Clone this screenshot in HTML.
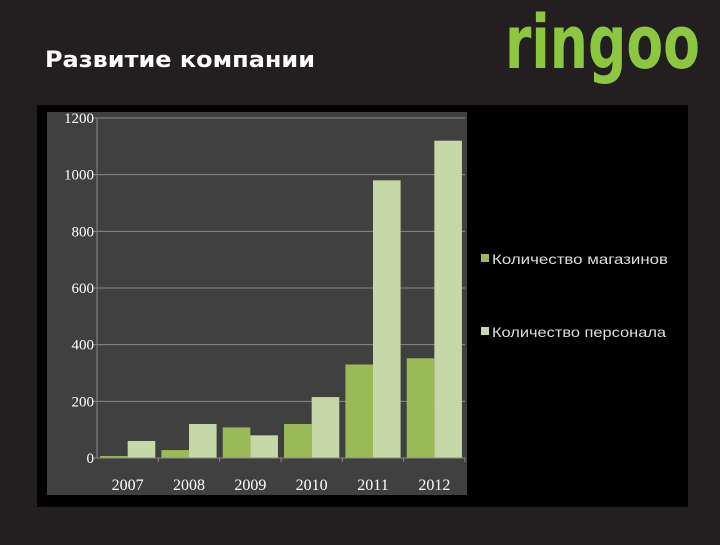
<!DOCTYPE html>
<html><head><meta charset="utf-8"><style>
body{margin:0;width:720px;height:540px;background:#231f20;overflow:hidden;font-family:"Liberation Sans","DejaVu Sans",sans-serif}
</style></head><body>
<svg width="720" height="540">
<text x="45" y="67" fill="#fff" font-size="22" font-weight="bold" textLength="270" lengthAdjust="spacingAndGlyphs" font-family="DejaVu Sans, sans-serif">Развитие компании</text>
<text x="505" y="68" fill="#8dc63f" font-size="74" font-weight="bold" textLength="195" lengthAdjust="spacingAndGlyphs" font-family="DejaVu Sans, sans-serif">ringoo</text>
<rect x="37" y="105" width="651" height="402" fill="#000"/>
<rect x="47" y="112" width="420" height="383" fill="#404040"/>
<g id="chart"></g>
<rect x="481" y="254" width="8" height="8" fill="#9bbb59"/>
<text x="492" y="264" fill="#ddd" font-size="14" textLength="176" lengthAdjust="spacingAndGlyphs">Количество магазинов</text>
<rect x="481" y="327" width="8" height="8" fill="#c6d7a8"/>
<text x="492" y="337" fill="#ddd" font-size="14" textLength="174" lengthAdjust="spacingAndGlyphs">Количество персонала</text>
</svg>
<script>
const categories=["2007","2008","2009","2010","2011","2012"];
const stores=[7,28,108,120,330,352];
const staff=[60,120,80,215,980,1120];
const yTicks=[0,200,400,600,800,1000,1200];
const NS="http://www.w3.org/2000/svg";
const g=document.getElementById('chart');
const x0=97,x1=465,yb=458,yt=118,ymax=1200;
const y=v=>yb-(v/ymax)*(yb-yt);
const cw=(x1-x0)/categories.length;
function el(t,a){const e=document.createElementNS(NS,t);for(const k in a)e.setAttribute(k,a[k]);g.appendChild(e);return e;}
yTicks.forEach(t=>{
 const l=el('line',{x1:x0-4,x2:x1,y1:y(t),y2:y(t),stroke:'#8a8a8a','stroke-width':1});
 
 
 const tx=el('text',{x:x0-3,y:y(t)+5,fill:'#fff','font-size':15,'text-anchor':'end','font-family':'Liberation Serif, serif'});
 tx.textContent=t;
 
 
});
const ax=el('line',{x1:x0,x2:x0,y1:yt,y2:yb,stroke:'#8a8a8a'});


categories.forEach((c,i)=>{
 const cx=x0+i*cw, bw=cw*0.45;
 const b1=el('rect',{x:cx+cw*0.05,y:y(stores[i]),width:bw,height:yb-y(stores[i]),fill:'#9bbb59'});
 
 
 const b2=el('rect',{x:cx+cw*0.05+bw,y:y(staff[i]),width:bw,height:yb-y(staff[i]),fill:'#c6d7a8'});
 
 
 const tk=el('line',{x1:cx+cw,x2:cx+cw,y1:yb,y2:yb+4,stroke:'#8a8a8a'});
 
 
 const t=el('text',{x:cx+cw/2,y:yb+32,fill:'#fff','font-size':16,'text-anchor':'middle','font-family':'Liberation Serif, serif'});
 t.textContent=c;
 
 
});
const xa=el('line',{x1:x0,x2:x1,y1:yb,y2:yb,stroke:'#8a8a8a'});


</script>
</body></html>
